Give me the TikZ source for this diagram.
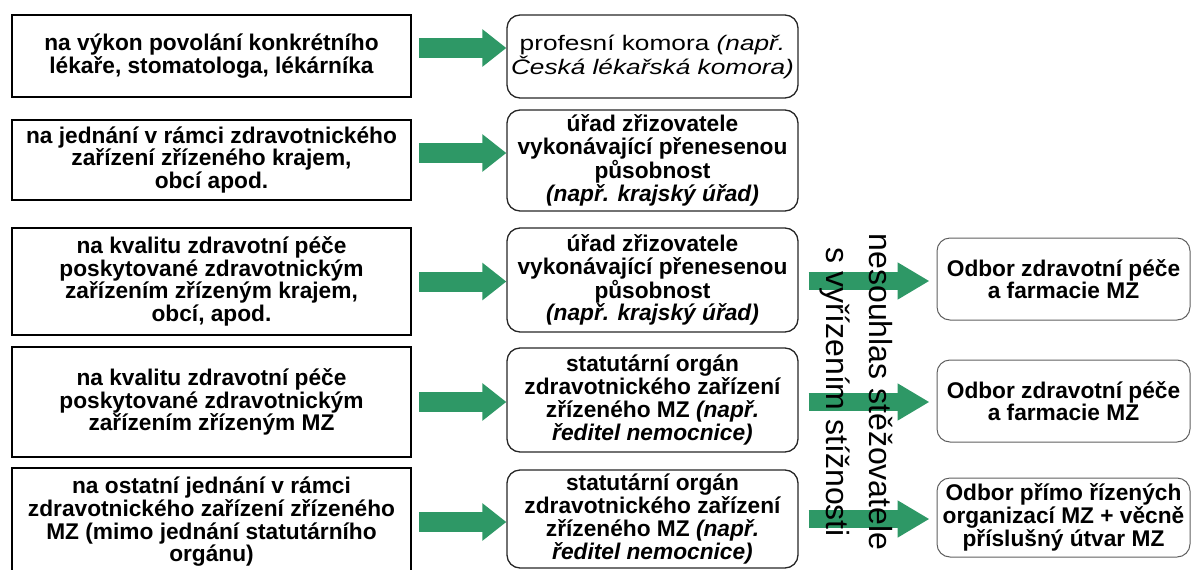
\documentclass[tikz,border=0pt]{standalone}
\usepackage{fontspec}
\setmainfont{Liberation Sans}
\newfontfamily\wideface{Liberation Sans}[FakeStretch=1.25]
\usetikzlibrary{arrows.meta}
\definecolor{arrowgreen}{RGB}{46,152,102}
\definecolor{framegray}{RGB}{95,95,95}

\begin{document}
\begin{tikzpicture}[x=1pt, y=-1pt,
  every node/.style={inner sep=0pt, align=center},
  boxtext/.style={font=\fontsize{22.7}{22.7}\selectfont\bfseries},
  complaint/.style={boxtext, draw=black, line width=1.6pt, minimum width=399pt},
  office/.style={boxtext, draw=black!85, line width=1.3pt, rounded corners=13pt, minimum width=291pt},
  ministry/.style={boxtext, draw=framegray, line width=1pt, rounded corners=13pt, minimum width=253pt},
  handover/.style={arrowgreen, line width=20pt, -{Triangle[length=24pt, width=36pt]}},
  escalate/.style={arrowgreen, line width=18pt, -{Triangle[length=32pt, width=35pt]}}]

  \useasboundingbox (0,0) rectangle (1191,570);
  \clip (0,0) rectangle (1191,570);

  % Complaints
  \node[complaint, minimum height=82pt] (l1) at (211.5,56) {na výkon povolání konkrétního\\lékaře, stomatologa, lékárníka};
  \node[complaint, minimum height=80pt] (l2) at (211.5,160) {na jednání v rámci zdravotnického\\zařízení zřízeného krajem,\\obcí apod.};
  \node[complaint, minimum height=107pt] (l3) at (211.5,281.5) {na kvalitu zdravotní péče\\poskytované zdravotnickým\\zařízením zřízeným krajem,\\obcí, apod.};
  \node[complaint, minimum height=110pt] (l4) at (211.5,402) {na kvalitu zdravotní péče\\poskytované zdravotnickým\\zařízením zřízeným MZ};
  \node[complaint, minimum height=108pt] (l5) at (211.5,522) {na ostatní jednání v rámci\\zdravotnického zařízení zřízeného\\MZ (mimo jednání statutárního\\orgánu)};

  % First instance
  \node[office, minimum height=83pt, font=\wideface\fontsize{21}{24}\selectfont] (m1) at (652.5,56.5) {profesní komora \textit{(např.}\\\textit{Česká lékařská komora)}};
  \node[office, minimum height=101pt] (m2) at (652.5,160.5) {úřad zřizovatele\\vykonávající přenesenou\\působnost\\\textit{(např. krajský úřad)}};
  \node[office, minimum height=104pt] (m3) at (652.5,280) {úřad zřizovatele\\vykonávající přenesenou\\působnost\\\textit{(např. krajský úřad)}};
  \node[office, minimum height=104pt] (m4) at (652.5,400) {statutární orgán\\zdravotnického zařízení\\zřízeného MZ \textit{(např.}\\\textit{ředitel nemocnice)}};
  \node[office, minimum height=98pt] (m5) at (652.5,519) {statutární orgán\\zdravotnického zařízení\\zřízeného MZ \textit{(např.}\\\textit{ředitel nemocnice)}};

  % Ministry
  \node[ministry, minimum height=82pt] (r1) at (1063.5,279) {Odbor zdravotní péče\\a farmacie MZ};
  \node[ministry, minimum height=82pt] (r2) at (1063.5,401) {Odbor zdravotní péče\\a farmacie MZ};
  \node[ministry, minimum height=79pt] (r3) at (1063.5,517.5) {Odbor přímo řízených\\organizací MZ + věcně\\příslušný útvar MZ};

  % Arrows to first instance
  \draw[handover] ([xshift=7pt, yshift=8pt]l1.east) -- ([yshift=8pt]l1.east -| m1.west);
  \draw[handover] ([xshift=7pt, yshift=7pt]l2.east) -- ([yshift=7pt]l2.east -| m2.west);
  \draw[handover] ([xshift=7pt]l3.east) -- (l3.east -| m3.west);
  \draw[handover] ([xshift=7pt]l4.east) -- (l4.east -| m4.west);
  \draw[handover] ([xshift=7pt]l5.east) -- (l5.east -| m5.west);

  % Arrows to ministry
  \draw[escalate] ([xshift=10pt, yshift=-1pt]m3.east) -- ([xshift=-7pt, yshift=-1pt]m3.east -| r1.west);
  \draw[escalate] ([xshift=10pt, yshift=-2pt]m4.east) -- ([xshift=-7pt, yshift=-2pt]m4.east -| r2.west);
  \draw[escalate] ([xshift=10pt]m5.east) -- ([xshift=-7pt]m5.east -| r3.west);

  % Disagreement
  \node[rotate=-90, font=\fontsize{32}{43}\selectfont] (nesouhlas) at (856,392) {nesouhlas stěžovatele\\s vyřízením stížnosti};

\end{tikzpicture}
\end{document}
